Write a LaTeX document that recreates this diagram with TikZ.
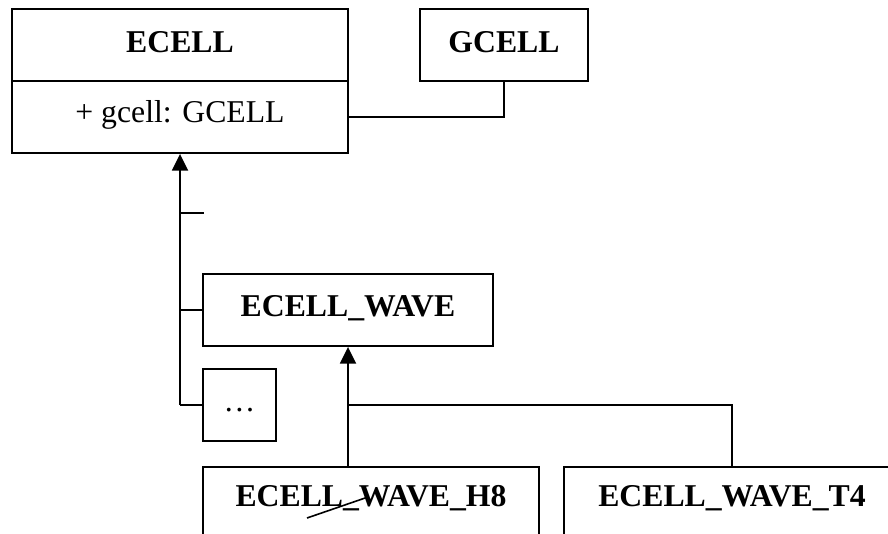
\documentclass[tikz,border=0pt]{standalone}
\usepackage{fontspec}
\setmainfont{Liberation Serif}
\usetikzlibrary{arrows.meta}
\begin{document}
\begin{tikzpicture}[x=0.75pt,y=-0.75pt,
  box/.style={draw, line width=1.4pt, inner sep=0pt, rectangle},
  lbl/.style={inner sep=0pt, anchor=base, font=\fontsize{23.8}{28}\selectfont},
  blbl/.style={lbl, font=\fontsize{23.8}{28}\selectfont\bfseries},
  conn/.style={line width=1.4pt},
  inh/.style={line width=1.4pt, -{Triangle[width=12pt,length=12.5pt]}}]
\clip (0,0) rectangle (888,533);
% boxes
\node[box, minimum width=252pt, minimum height=108pt] (ecell) at (180,81) {};
\node[blbl] (ecellt) at (180,52) {ECELL};
\node[lbl] (attr) at (180,122) {+ gcell: GCELL};
\coordinate (lowmid) at (180,117);
\node[box, minimum width=126pt, minimum height=54pt] (gcell) at (504,45) {};
\node[blbl] (gcellt) at (504,52) {GCELL};
\node[box, minimum width=217.5pt, minimum height=54pt] (ewave) at (348,310) {};
\node[blbl] (ewavet) at (348,316) {ECELL\_WAVE};
\node[box, minimum width=54.75pt, minimum height=54pt] (dots) at (239.5,405) {};
\node[lbl] (dotst) at (239.5,411) {…};
\node[box, minimum width=252pt, minimum height=90pt, anchor=north] (h8) at (371,466) {};
\node[blbl] (h8t) at (371,506) {ECELL\_WAVE\_H8};
\node[box, minimum width=252pt, minimum height=90pt, anchor=north] (t4) at (732,466) {};
\node[blbl] (t4t) at (732,506) {ECELL\_WAVE\_T4};
\coordinate (tick) at (204,213);
\coordinate (trunk) at (180,405);
% divider
\draw[conn] (ecell.west) -- (ecell.east);
% association
\draw[conn] (ecell.east |- lowmid) -| (gcell.south);
% inheritance to ECELL
\draw[inh] (trunk) -- (ecell.south);
\draw[conn] (trunk) -- (dots.west);
\draw[conn] (trunk |- ewave.west) -- (ewave.west);
\draw[conn] (trunk |- tick) -- (tick);
% inheritance to ECELL_WAVE
\draw[inh] (ewave.south |- h8.north) -- (ewave.south);
\draw[conn] (ewave.south |- dots.center) -| (t4.north);
% stray stroke
\coordinate (s1) at (307,518);
\coordinate (s2) at (368,497);
\draw[line width=1.2pt] (s1) -- (s2);
\end{tikzpicture}
\end{document}
